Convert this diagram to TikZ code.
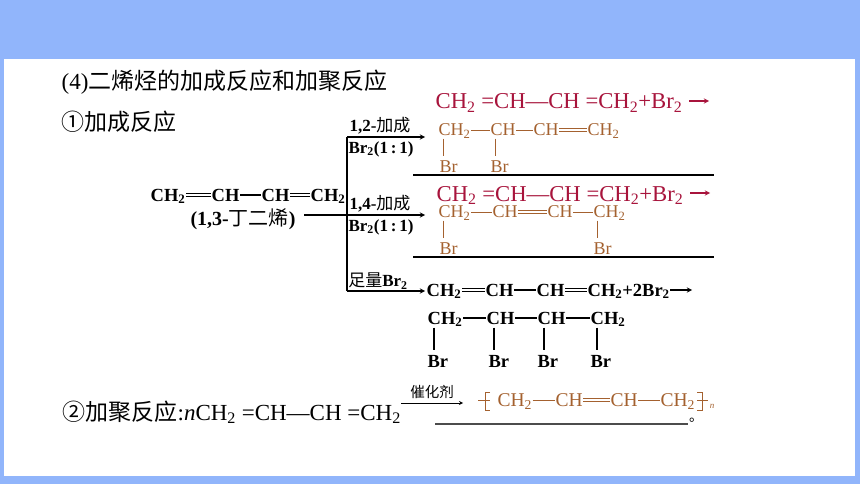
\documentclass[tikz,border=0pt]{standalone}
\usepackage{fontspec}
\setmainfont{Liberation Serif}
\newfontfamily\cjk{Noto Sans CJK SC}
\usetikzlibrary{positioning}
\definecolor{framecol}{HTML}{91B5FB}
\definecolor{redcol}{HTML}{A8143C}
\definecolor{browncol}{HTML}{A4612F}
\newcommand{\chtwo}{CH\textsubscript{2}}
\newcommand{\brtwo}{Br\textsubscript{2}}
\tikzset{
	atom/.style={inner sep=0pt, anchor=west, text height=12pt, text depth=0pt},
	blk/.style={atom, font=\fontsize{18.5}{20}\selectfont\bfseries},
	brn/.style={atom, text=browncol, font=\fontsize{18}{20}\selectfont},
	poly/.style={atom, text=browncol, text height=13pt, font=\fontsize{19.5}{20}\selectfont},
	cond/.style={inner sep=0pt, font=\fontsize{17}{18}\selectfont\bfseries},
	line1/.style={inner sep=0pt, anchor=base west, font=\fontsize{23}{25}\selectfont},
	redline/.style={inner sep=0pt, anchor=base west, text=redcol, font=\fontsize{22.7}{24}\selectfont},
	dbl/.style={double, double distance=2pt, line width=0.8pt},
	bond/.style={browncol, line width=0.9pt},
	answer/.style={line width=1.6pt}
}
\begin{document}
\begin{tikzpicture}[x=1pt, y=-1pt, > = stealth, line width=1.3pt]
	\useasboundingbox (0,0) rectangle (860,484);
	% moldura
	\fill [framecol] (0,0) rectangle (860,484);
	\fill [white] (4,59) rectangle (855,476);

	% titulos
	\node [line1] (title) at (61,90) {(4){\cjk 二烯烃的加成反应和加聚反应}};
	\node [line1] (addtitle) at (61,131) {{\cjk ①加成反应}};

	% butadieno
	\node [blk] (a1) at (150,195) {\chtwo};
	\node [blk] (a2) at (211,195) {CH};
	\node [blk] (a3) at (261,195) {CH};
	\node [blk] (a4) at (310,195) {\chtwo};
	\draw [dbl] (a1) -- (a2);
	\draw (a2) -- (a3);
	\draw [dbl] (a3) -- (a4);
	\node [cond, font=\fontsize{20}{22}\selectfont\bfseries] (name) at (243,219) {(1,3-{\cjk\mdseries 丁二烯})};

	% ramos
	\coordinate (start) at (304,215);
	\coordinate (top) at (347,137);
	\coordinate (mid) at (347,215);
	\coordinate (bot) at (347,291);
	\coordinate (topend) at (425,137);
	\coordinate (midend) at (425,215);
	\coordinate (botend) at (425,291);
	\draw (top) -- (bot);
	\draw [->] (top) -- (topend);
	\draw [->] (start) -- (midend);
	\draw [->] (bot) -- (botend);
	\node [cond] (c12) at (380,126) {1,2-{\cjk\mdseries 加成}};
	\node [cond] (b12) at (381,149) {\brtwo(1\,:\,1)};
	\node [cond] (c14) at (380,204) {1,4-{\cjk\mdseries 加成}};
	\node [cond] (b14) at (381,227) {\brtwo(1\,:\,1)};
	\node [cond] (cex) at (378,281) {{\cjk\mdseries 足量}\brtwo};

	% linhas vermelhas
	\node [redline] (r1) at (435,109) {\chtwo{} =CH—CH =\chtwo+\brtwo};
	\node [redline] (r2) at (436,201) {\chtwo{} =CH—CH =\chtwo+\brtwo};
	\coordinate (r1a) at (689,101);
	\coordinate (r1b) at (709,101);
	\coordinate (r2a) at (690,193);
	\coordinate (r2b) at (710,193);
	\draw [->, redcol] (r1a) -- (r1b);
	\draw [->, redcol] (r2a) -- (r2b);

	% produto 1,2
	\node [brn] (p1) at (438,130) {\chtwo};
	\node [brn] (p2) at (490,130) {CH};
	\node [brn] (p3) at (533,130) {CH};
	\node [brn] (p4) at (587,130) {\chtwo};
	\node [brn] (p5) at (439,166) {Br};
	\node [brn] (p6) at (490,166) {Br};
	\draw [bond] (p1) -- (p2);
	\draw [bond] (p2) -- (p3);
	\draw [bond, dbl] (p3) -- (p4);
	\draw [bond, shorten >=3pt] (p1.south west) ++(5,2) coordinate (p1s) -- (p1s |- p5.north);
	\draw [bond, shorten >=3pt] (p2.south west) ++(5,2) coordinate (p2s) -- (p2s |- p6.north);

	% produto 1,4
	\node [brn] (q1) at (438,212) {\chtwo};
	\node [brn] (q2) at (492,212) {CH};
	\node [brn] (q3) at (547,212) {CH};
	\node [brn] (q4) at (593,212) {\chtwo};
	\node [brn] (q5) at (439,248) {Br};
	\node [brn] (q6) at (593,248) {Br};
	\draw [bond] (q1) -- (q2);
	\draw [bond, dbl] (q2) -- (q3);
	\draw [bond] (q3) -- (q4);
	\draw [bond, shorten >=3pt] (q1.south west) ++(5,2) coordinate (q1s) -- (q1s |- q5.north);
	\draw [bond, shorten >=3pt] (q4.south west) ++(4,2) coordinate (q4s) -- (q4s |- q6.north);

	% linhas de resposta
	\coordinate (u1a) at (413,175);
	\coordinate (u1b) at (714,175);
	\coordinate (u2a) at (413,257);
	\coordinate (u2b) at (714,257);
	\draw [answer] (u1a) -- (u1b);
	\draw [answer] (u2a) -- (u2b);

	% excesso de bromo
	\node [blk] (s1) at (426,290) {\chtwo};
	\node [blk] (s2) at (485,290) {CH};
	\node [blk] (s3) at (536,290) {CH};
	\node [blk] (s4) at (587,290) {\chtwo+2\brtwo};
	\draw [dbl] (s1) -- (s2);
	\draw (s2) -- (s3);
	\draw [dbl] (s3) -- (s4.west);
	\coordinate (s5) at (692,290);
	\draw [->] (s4) -- (s5);

	\node [blk] (t1) at (427,318) {\chtwo};
	\node [blk] (t2) at (486,318) {CH};
	\node [blk] (t3) at (537,318) {CH};
	\node [blk] (t4) at (590,318) {\chtwo};
	\node [blk] (b1) at (427,361) {Br};
	\node [blk] (b2) at (488,361) {Br};
	\node [blk] (b3) at (537,361) {Br};
	\node [blk] (b4) at (590,361) {Br};
	\draw (t1) -- (t2);
	\draw (t2) -- (t3);
	\draw (t3) -- (t4);
	\draw [shorten >=4pt] (t1.south west) ++(7,3) coordinate (t1s) -- (t1s |- b1.north);
	\draw [shorten >=4pt] (t2.south west) ++(8,3) coordinate (t2s) -- (t2s |- b2.north);
	\draw [shorten >=4pt] (t3.south west) ++(7,3) coordinate (t3s) -- (t3s |- b3.north);
	\draw [shorten >=4pt] (t4.south west) ++(7,3) coordinate (t4s) -- (t4s |- b4.north);

	% polimerizacao
	\node [line1] (poltitle) at (62,420) {{\cjk ②加聚反应}:\textit{n}\chtwo{} =CH—CH =\chtwo};
	\coordinate (arra) at (401,403);
	\coordinate (arrb) at (463,403);
	\draw [->, line width=0.8pt] (arra) -- (arrb);
	\node [cond, font=\fontsize{14.5}{16}\selectfont] (cat) at (432,392) {{\cjk 催化剂}};

	\node [poly] (w1) at (497,400) {\chtwo};
	\node [poly] (w2) at (555,400) {CH};
	\node [poly] (w3) at (610,400) {CH};
	\node [poly] (w4) at (660,400) {\chtwo};
	\draw [bond] (w1) -- (w2);
	\draw [bond, dbl] (w2) -- (w3);
	\draw [bond] (w3) -- (w4);
	% colchetes
	\coordinate (la) at (490,392);
	\coordinate (lb) at (485,392);
	\coordinate (lc) at (485,410);
	\coordinate (ld) at (478,400);
	\coordinate (le) at (490,400);
	\draw [bond] (la) -- (lb) -- (lc) -- (lc -| la);
	\draw [bond] (ld) -- (le);
	\coordinate (ra) at (697,392);
	\coordinate (rb) at (702,392);
	\coordinate (rc) at (702,410);
	\coordinate (rd) at (697,400);
	\coordinate (re) at (708,400);
	\draw [bond] (ra) -- (rb) -- (rc) -- (rc -| ra);
	\draw [bond] (rd) -- (re);
	\node [inner sep=0pt, text=browncol, font=\fontsize{9}{10}\selectfont\itshape] (wn) at (712,406) {n};

	\coordinate (u3a) at (435,424);
	\coordinate (u3b) at (688,424);
	\draw [answer, black!70] (u3a) -- (u3b);
	\node [inner sep=0pt, font=\fontsize{14}{16}\selectfont] (stop) at (696,420.5) {{\cjk 。}};
\end{tikzpicture}
\end{document}
